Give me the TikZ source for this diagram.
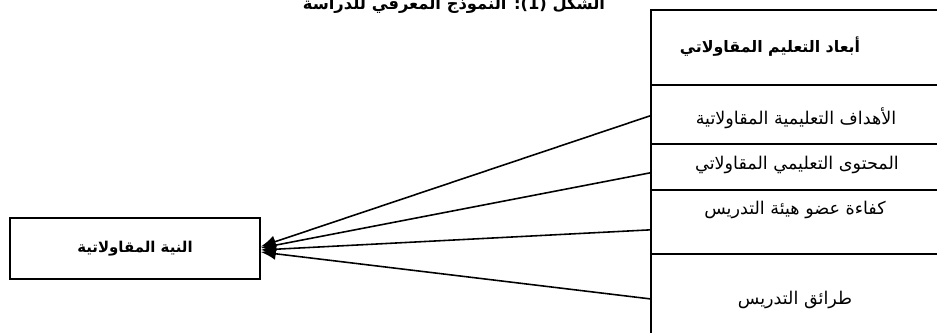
\documentclass[tikz,border=0pt]{standalone}
\usepackage{fontspec}
\newfontfamily\arabicfont[Script=Arabic]{DejaVu Sans}
\TeXXeTstate=1
\usetikzlibrary{arrows.meta}
\tikzset{
  cell/.style={rectangle, draw, line width=1pt, anchor=north west,
               inner sep=0pt, minimum width=5.9cm},
  txt/.style={font=\arabicfont\fontsize{10}{12}\selectfont, inner sep=1pt},
  hdr/.style={font=\arabicfont\bfseries\fontsize{9}{11}\selectfont, inner sep=1pt},
  ttl/.style={font=\arabicfont\bfseries\fontsize{9.3}{11}\selectfont, inner sep=1pt},
  outc/.style={rectangle, draw, line width=1pt, minimum width=5cm,
               minimum height=1.22cm, font=\arabicfont\bfseries\fontsize{8.5}{10}\selectfont},
  fl/.style={-{Latex[length=8.5pt,width=7pt]}, line width=0.9pt},
}
\begin{document}
\begin{tikzpicture}[x=0.02cm, y=-0.02cm]
\useasboundingbox (0,0) rectangle (937,333);
% title, cut at the top
\node[ttl, anchor=base] (tl) at (454,10) {\beginR الشكل (1): النموذج المعرفي للدراسة\endR};
% dimensions column
\node[cell, minimum height=1.5cm] (hd) at (650,9) {};
\node[cell, minimum height=1.18cm] (r1) at (650,84) {};
\node[cell, minimum height=0.92cm] (r2) at (650,143) {};
\node[cell, minimum height=1.28cm] (r3) at (650,189) {};
\node[cell, minimum height=1.74cm] (r4) at (650,253) {};
\node[hdr] (hdt) at (770,47) {\beginR أبعاد التعليم المقاولاتي\endR};
\node[txt] (t1) at (796,118) {\beginR الأهداف التعليمية المقاولاتية\endR};
\node[txt] (t2) at (797,165) {\beginR المحتوى التعليمي المقاولاتي\endR};
\node[txt] (t3) at (795,210) {\beginR كفاءة عضو هيئة التدريس\endR};
\node[txt] (t4) at (795,300) {\beginR طرائق التدريس\endR};
% outcome
\node[outc] (ni) at (135,248.5) {\beginR النية المقاولاتية\endR};
\draw[fl] ([yshift=-0.03cm]r1.west) -- ([yshift=0.04cm]ni.east);
\draw[fl] ([yshift=-0.12cm]r2.west) -- ([yshift=0.01cm]ni.east);
\draw[fl] ([yshift=-0.16cm]r3.west) -- ([yshift=-0.03cm]ni.east);
\draw[fl] ([yshift=-0.03cm]r4.west) -- ([yshift=-0.07cm]ni.east);
\end{tikzpicture}
\end{document}
